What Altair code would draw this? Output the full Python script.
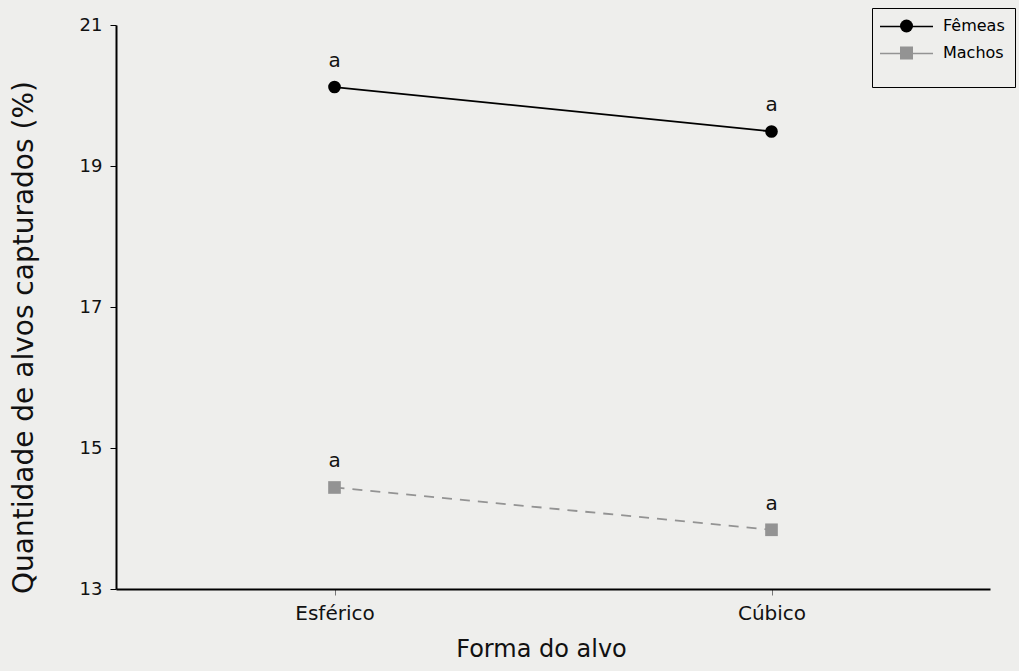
import altair as alt
import pandas as pd

# Target shapes and mean capture percentage per sex
formas = ["Esférico", "Cúbico"]
sexos = ["Fêmeas", "Machos"]
femeas = [20.12, 19.49]
machos = [14.44, 13.84]
letras_femeas = ["a", "a"]
letras_machos = ["a", "a"]
y_ticks = [13, 15, 17, 19, 21]

df = pd.DataFrame({
    "forma": formas * 2,
    "sexo": [sexos[0]] * len(formas) + [sexos[1]] * len(formas),
    "valor": femeas + machos,
    "letra": letras_femeas + letras_machos,
})

FONT = "DejaVu Sans"
BG = "#eeeeec"
cores = ["#000000", "#939393"]

x_enc = alt.X(
    "forma:N", sort=formas,
    scale=alt.Scale(type="point", padding=0.5),
    axis=alt.Axis(title="Forma do alvo", labelAngle=0, labelFontSize=20,
                  labelPadding=8, tickSize=6, tickColor="#777777",
                  titleFontSize=24, titlePadding=14, titleFontWeight="normal",
                  titleX=425, titleAlign="center"),
)
y_enc = alt.Y(
    "valor:Q",
    scale=alt.Scale(domain=[13, 21], nice=False, zero=False),
    axis=alt.Axis(title="Quantidade de alvos capturados (%)", values=y_ticks,
                  labelFontSize=18, labelPadding=8, tickSize=6,
                  titleFontSize=28, titleFontWeight="normal",
                  titleX=-78, titleY=312),
)

base = alt.Chart(df).encode(x=x_enc, y=y_enc)
f_sel = alt.datum.sexo == sexos[0]
m_sel = alt.datum.sexo == sexos[1]

# Series lines: solid black for females, dashed grey for males
linha_f = base.transform_filter(f_sel).mark_line(color=cores[0], strokeWidth=1.8)
linha_m = base.transform_filter(m_sel).mark_line(color=cores[1], strokeWidth=1.8,
                                                  strokeDash=[10, 8])

# Markers: filled circles for females, grey squares for males
pontos_f = base.transform_filter(f_sel).mark_point(
    filled=True, size=160, opacity=1, shape="circle", color=cores[0])
pontos_m = base.transform_filter(m_sel).mark_point(
    filled=True, size=160, opacity=1, shape="square", color=cores[1])

letras = base.mark_text(dy=-20, baseline="alphabetic", fontSize=20, font=FONT,
                        color="#111111").encode(text="letra:N")

# Legend: one entry per guide so each row can be placed on its own.
# First row (females) also draws the surrounding box.
leg_f = alt.Legend(
    title=" ", titleOrient="bottom", titleFontSize=16, titlePadding=27,
    orient="none", legendX=756, legendY=-17,
    symbolType="circle", symbolSize=169, symbolOffset=16.5, labelOffset=28.5,
    symbolOpacity=1, labelFontSize=16, labelFont=FONT,
    padding=10, strokeColor="#000000",
)
legenda_f = base.transform_filter(f_sel).mark_point(filled=True, size=169, opacity=0).encode(
    fill=alt.Fill("sexo:N", scale=alt.Scale(domain=[sexos[0]], range=[cores[0]]), legend=leg_f),
)

leg_m = alt.Legend(
    title=None, orient="none", legendX=766, legendY=20,
    symbolSize=169, symbolOffset=16.5, labelOffset=28.5,
    symbolOpacity=1, labelFontSize=16, labelFont=FONT, padding=0,
)
legenda_m = base.transform_filter(m_sel).mark_point(
    filled=True, size=169, opacity=0, color=cores[1]).encode(
    shape=alt.Shape("sexo:N", scale=alt.Scale(domain=[sexos[1]], range=["square"]),
                    legend=leg_m),
)

# Line segments of the legend glyphs
leg_linha_f = alt.Legend(
    title=None, orient="none", legendX=763, legendY=-26,
    symbolType="stroke", symbolSize=2809, symbolStrokeWidth=1.5, symbolOpacity=1,
    symbolOffset=0, padding=0, labelOpacity=0, labelFontSize=1,
)
legenda_linha_f = base.transform_filter(f_sel).transform_calculate(
    sexo_lf="datum.sexo + ' '").mark_line(strokeWidth=1.5, opacity=0).encode(
    stroke=alt.Stroke("sexo_lf:N", scale=alt.Scale(domain=[sexos[0] + " "], range=[cores[0]]),
                      legend=leg_linha_f),
)

leg_linha_m = alt.Legend(
    title=None, orient="none", legendX=763, legendY=1,
    symbolType="stroke", symbolSize=2809, symbolStrokeWidth=1.5, symbolOpacity=1,
    symbolOffset=0, padding=0, labelOpacity=0, labelFontSize=1,
)
legenda_linha_m = base.transform_filter(m_sel).transform_calculate(
    sexo_lm="datum.sexo + '  '").mark_line(
    strokeWidth=1.5, opacity=0, color=cores[1]).encode(
    strokeDash=alt.StrokeDash("sexo_lm:N",
                              scale=alt.Scale(domain=[sexos[1] + "  "], range=[[1, 0]]),
                              legend=leg_linha_m),
)

chart = (
    alt.layer(linha_f, linha_m, pontos_f, pontos_m, letras,
              legenda_f, legenda_m, legenda_linha_f, legenda_linha_m)
    .properties(
        width=874, height=564, background=BG,
        padding={"left": 116, "top": 25, "right": 29, "bottom": 82},
        autosize=alt.AutoSizeParams(type="none"),
    )
    .configure_view(stroke=None)
    .configure_axis(
        domainColor="#000000", domainWidth=2, tickColor="#000000",
        labelFont=FONT, titleFont=FONT, labelColor="#111111", titleColor="#111111",
        grid=False,
    )
)

chart.save("out.html", embed_options={"renderer": "svg", "actions": False})
